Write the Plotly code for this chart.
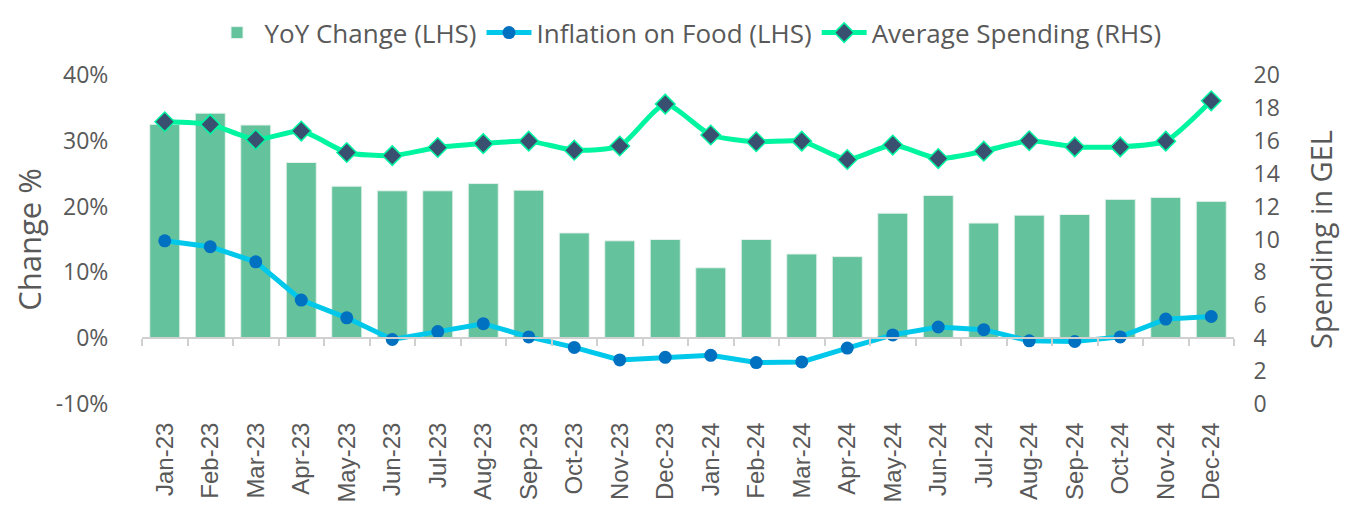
import plotly.graph_objects as go

months = ["Jan-23", "Feb-23", "Mar-23", "Apr-23", "May-23", "Jun-23", "Jul-23", "Aug-23",
          "Sep-23", "Oct-23", "Nov-23", "Dec-23", "Jan-24", "Feb-24", "Mar-24", "Apr-24",
          "May-24", "Jun-24", "Jul-24", "Aug-24", "Sep-24", "Oct-24", "Nov-24", "Dec-24"]
yoy_change = [32.5, 34.2, 32.4, 26.7, 23.1, 22.4, 22.4, 23.5, 22.5, 16.0, 14.8, 15.0,
              10.7, 15.0, 12.8, 12.4, 19.0, 21.7, 17.5, 18.7, 18.8, 21.1, 21.4, 20.8]
food_inflation = [14.8, 13.9, 11.6, 5.8, 3.1, -0.2, 1.0, 2.2, 0.2, -1.4, -3.3, -2.9,
                  -2.6, -3.7, -3.6, -1.5, 0.5, 1.7, 1.3, -0.4, -0.5, 0.2, 2.9, 3.3]
avg_spending = [17.16, 17.0, 16.08, 16.59, 15.29, 15.1, 15.59, 15.83, 15.98, 15.43, 15.68, 18.23,
                16.35, 15.94, 15.98, 14.86, 15.74, 14.92, 15.37, 16.0, 15.63, 15.63, 15.98, 18.43]
left_ticks = [-10, 0, 10, 20, 30, 40]
left_tick_text = ["-10%", "0%", "10%", "20%", "30%", "40%"]

FONT = "Open Sans"
GREY = "#595959"

fig = go.Figure()
fig.add_trace(go.Bar(
    x=months, y=yoy_change, name="YoY Change (LHS)",
    marker=dict(color="#64C29D", line=dict(color="#E6F2EC", width=1)),
    yaxis="y", xaxis="x"))
fig.add_trace(go.Scatter(
    x=months, y=food_inflation, name="Inflation on Food (LHS)", mode="lines+markers",
    line=dict(color="#00C8EA", width=5),
    marker=dict(color="#0070C0", size=13, symbol="circle"),
    yaxis="y", xaxis="x"))
fig.add_trace(go.Scatter(
    x=months, y=avg_spending, name="Average Spending (RHS)", mode="lines+markers",
    line=dict(color="#00F5A0", width=5, shape="spline", smoothing=0.6),
    marker=dict(color="#3A5070", size=15, symbol="diamond",
                line=dict(color="#00F5A0", width=1.5)),
    yaxis="y2", xaxis="x"))
# invisible trace to carry the zero-line category axis with boundary ticks
fig.add_trace(go.Scatter(
    x=months, y=[0] * len(months), mode="markers", marker=dict(opacity=0),
    showlegend=False, hoverinfo="skip", xaxis="x2", yaxis="y"))

fig.update_layout(
    width=1351, height=507,
    margin=dict(l=134, r=125, t=67, b=111, autoexpand=False),
    paper_bgcolor="white", plot_bgcolor="white",
    font=dict(family=FONT, color=GREY, size=20),
    bargap=0.34,
    showlegend=True,
    legend=dict(orientation="h", x=0.5, xanchor="center", y=1.2, yanchor="top",
                font=dict(size=26, color=GREY), tracegroupgap=0, itemwidth=45),
    xaxis=dict(domain=[0, 1], anchor="y", range=[-0.5, 23.5], showline=False,
               ticks="outside", ticklen=8,
               tickcolor="rgba(0,0,0,0)", showgrid=False, automargin=False,
               tickangle=-90, tickfont=dict(family="Liberation Sans", size=24, color=GREY),
               zeroline=False),
    xaxis2=dict(overlaying="x", matches="x", anchor="free", position=0.2,
                showline=True, linecolor="#D0D0D0", linewidth=2,
                ticks="outside", tickson="boundaries", ticklen=7, tickcolor="#D0D0D0",
                tickwidth=1.5, showticklabels=False, showgrid=False, zeroline=False),
    yaxis=dict(range=[-10, 40], tickvals=left_ticks, ticktext=left_tick_text,
               showgrid=False, zeroline=False, automargin=False,
               title=dict(text="Change %", font=dict(size=31, color=GREY), standoff=4),
               tickfont=dict(size=23, color=GREY), ticks="outside", ticklen=28,
               tickcolor="rgba(0,0,0,0)", showline=False),
    yaxis2=dict(range=[0, 20], dtick=2, overlaying="y", side="right", showgrid=False,
                zeroline=False, ticks="outside", ticklen=14, tickcolor="rgba(0,0,0,0)",
                showline=False, automargin=False,
                title=dict(text="Spending in GEL", font=dict(size=29, color=GREY), standoff=32),
                tickfont=dict(size=23, color=GREY)),
)

fig.write_html("out.html")
